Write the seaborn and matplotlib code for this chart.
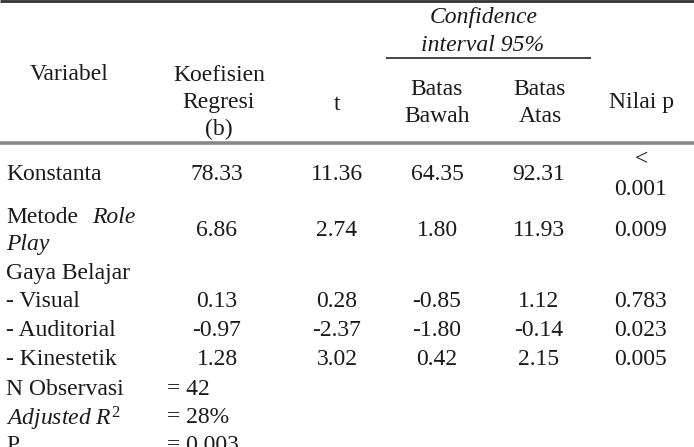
import matplotlib
matplotlib.use("Agg")
import matplotlib.pyplot as plt
import seaborn as sns

# ---- data ----
row_labels = ["Konstanta", "Metode Role Play", "Gaya Belajar", "- Visual", "- Auditorial", "- Kinestetik"]
coef = ["78.33", "6.86", "", "0.13", "-0.97", "1.28"]
t_vals = ["11.36", "2.74", "", "0.28", "-2.37", "3.02"]
lower = ["64.35", "1.80", "", "-0.85", "-1.80", "0.42"]
upper = ["92.31", "11.93", "", "1.12", "-0.14", "2.15"]
p_vals = ["< 0.001", "0.009", "", "0.783", "0.023", "0.005"]
footer_labels = ["N Observasi", "Adjusted R2", "P"]
footer_values = ["= 42", "= 28%", "= 0.003"]

# ---- style ----
sns.set_theme(style="white")
plt.rcParams["font.family"] = ["Liberation Serif", "DejaVu Serif"]
plt.rcParams["mathtext.fontset"] = "custom"
plt.rcParams["mathtext.rm"] = "Liberation Serif"
plt.rcParams["mathtext.it"] = "Liberation Serif:italic"

FS = 17
COL = "#1a1a1a"

fig = plt.figure(figsize=(6.94, 4.47), dpi=100)
ax = fig.add_axes([0, 0, 1, 1])
ax.set_xlim(0, 694)
ax.set_ylim(447, 0)
ax.axis("off")

def txt(x, y, s, ha="center", style="normal"):
    ax.text(x, y, s, ha=ha, va="center_baseline", fontsize=FS, color=COL,
            fontstyle=style)

# ---- rules ----
ax.plot([0, 694], [1, 1], color="#333333", lw=2.0, solid_capstyle="butt")
ax.plot([386, 591], [58, 58], color="#444444", lw=1.4, solid_capstyle="butt")
ax.plot([0, 694], [142.5, 142.5], color="#888888", lw=2.6, solid_capstyle="butt")

# ---- header ----
txt(484, 15, "Confidence", style="italic")
txt(483, 43, "interval 95%", style="italic")
txt(69, 72, "Variabel")
txt(219, 73, "Koefisien")
txt(219, 100, "Regresi")
txt(219, 127, "(b)")
txt(337, 102, "t")
txt(437, 87, "Batas")
txt(437, 114, "Bawah")
txt(540, 87, "Batas")
txt(540, 114, "Atas")
txt(642, 100, "Nilai p")

# ---- body ----
row_y = [172, 228, 271, 299, 328, 357]
col_x = [217, 337, 437, 539, 641]
for i, lab in enumerate(row_labels):
    y = row_y[i]
    if lab == "Metode Role Play":
        txt(6, y - 13, "Metode", ha="left")
        txt(92, y - 13, "Role", ha="left", style="italic")
        txt(6, y + 14, "Play", ha="left", style="italic")
    else:
        txt(6, y, lab, ha="left")
    for x, col in zip(col_x, [coef, t_vals, lower, upper, p_vals]):
        v = col[i]
        if not v:
            continue
        if v.startswith("<"):
            sign, num = v.split(" ")
            txt(x + 1, y - 15, sign)
            txt(x, y + 15, num)
        else:
            txt(x, y, v)

# ---- footer ----
foot_y = [387, 415, 443]
for lab, val, y in zip(footer_labels, footer_values, foot_y):
    if lab == "Adjusted R2":
        txt(6, y, r"$Adjusted\ R^{2}$", ha="left")
    else:
        txt(6, y, lab, ha="left")
    txt(167, y, val, ha="left")

fig.savefig("out.png", dpi=100, facecolor="white")
